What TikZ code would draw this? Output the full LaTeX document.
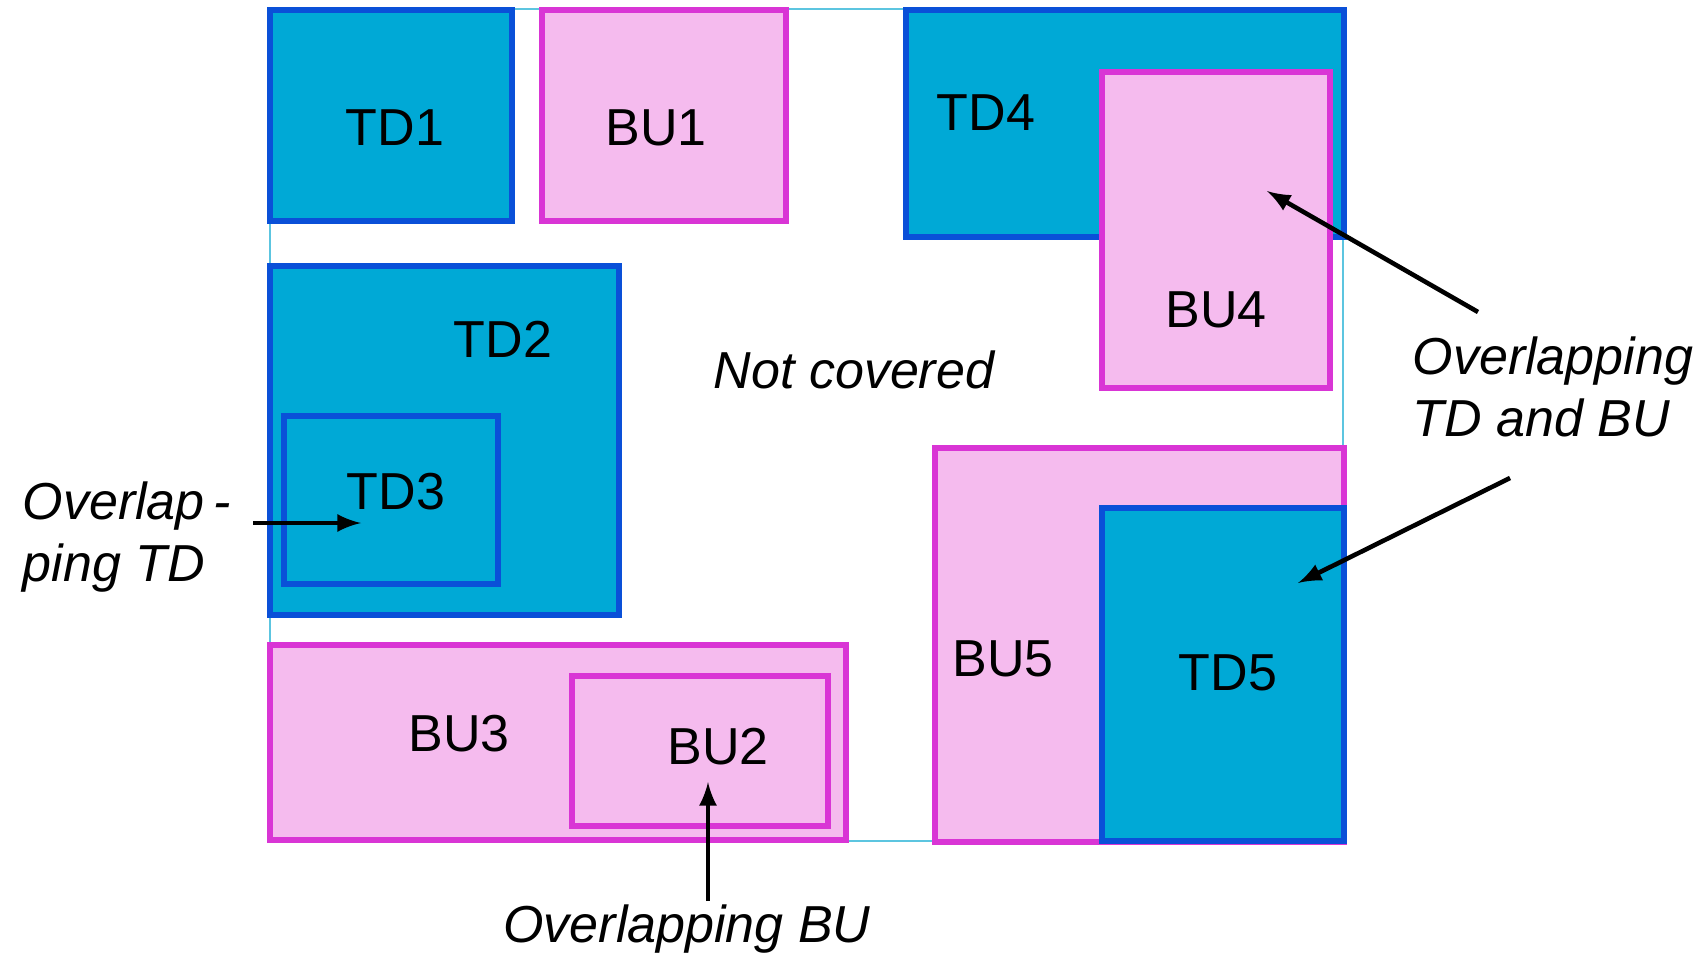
\documentclass[tikz,border=0pt]{standalone}
\usepackage{fontspec}
\setmainfont{Liberation Sans}
\usetikzlibrary{arrows, positioning}
\definecolor{tdFill}{RGB}{0,169,214}
\definecolor{tdLine}{RGB}{10,80,216}
\definecolor{buFill}{RGB}{245,187,238}
\definecolor{buLine}{RGB}{217,53,213}
\definecolor{frameLine}{RGB}{92,197,224}
\tikzset{
    tdArea/.style={draw=tdLine, fill=tdFill, line width=1.7pt},
    buArea/.style={draw=buLine, fill=buFill, line width=1.7pt},
    frameArea/.style={draw=frameLine, line width=0.4pt},
    areaName/.style={font=\fontsize{14.8}{16}\selectfont, inner sep=0pt},
    remark/.style={font=\fontsize{14.8}{17.6}\selectfont\itshape, inner sep=0pt, align=left},
    pointer/.style={->, >=latex, line width=1.3pt, black},
}
\newcommand{\drawArea}[5][tdArea]{
    \draw[#1] (#2,#3) rectangle (#4,#5);
}
\begin{document}
\begin{tikzpicture}[x=0.1mm, y=-0.1mm]
    \useasboundingbox (0,0) rectangle (1702,960);

    % region being covered
    \drawArea[frameArea]{270}{9}{1343}{841}

    \drawArea[tdArea]{270}{10}{512}{221}
    \drawArea[buArea]{542}{10}{786}{221}
    \drawArea[tdArea]{906}{10}{1344}{237}
    \drawArea[buArea]{1102}{72}{1330}{388}
    \drawArea[tdArea]{270}{266}{619}{615}
    \drawArea[tdArea]{284}{416}{498}{584}
    \drawArea[buArea]{270}{645}{846}{840}
    \drawArea[buArea]{572}{676}{828}{826}
    \drawArea[buArea]{935}{448}{1344}{842}
    \drawArea[tdArea]{1102}{508}{1344}{841}

    \node[areaName] (TD1) at (395,128) {TD1};
    \node[areaName] (BU1) at (656,128) {BU1};
    \node[areaName] (TD4) at (986,113) {TD4};
    \node[areaName] (BU4) at (1216,310) {BU4};
    \node[areaName] (TD2) at (503,339) {TD2};
    \node[areaName] (TD3) at (396,492) {TD3};
    \node[areaName] (BU3) at (459,734) {BU3};
    \node[areaName] (BU2) at (718,747) {BU2};
    \node[areaName] (BU5) at (1003,659) {BU5};
    \node[areaName] (TD5) at (1228,673) {TD5};

    \node[remark] (free) at (854,370) {Not covered};
    \node[remark, anchor=west] (ovTD) at (22,537) {Overlap\,-\\ping TD};
    \node[remark] (ovBU) at (687,929) {Overlapping BU};
    \node[remark, anchor=west] (ovMix) at (1412,387) {Overlapping\\TD and BU};

    \coordinate (ovTDtail) at (253,523);
    \coordinate (ovTDhead) at (361,523);
    \coordinate (ovBUtail) at (708,901);
    \coordinate (ovBUhead) at (708,782);
    \coordinate (mixAtail) at (1478,312);
    \coordinate (mixAhead) at (1267,191);
    \coordinate (mixBtail) at (1510,478);
    \coordinate (mixBhead) at (1298,583);

    \draw[pointer] (ovTDtail) -- (ovTDhead);
    \draw[pointer] (ovBUtail) -- (ovBUhead);
    \draw[pointer] (mixAtail) -- (mixAhead);
    \draw[pointer] (mixBtail) -- (mixBhead);

\end{tikzpicture}
\end{document}
